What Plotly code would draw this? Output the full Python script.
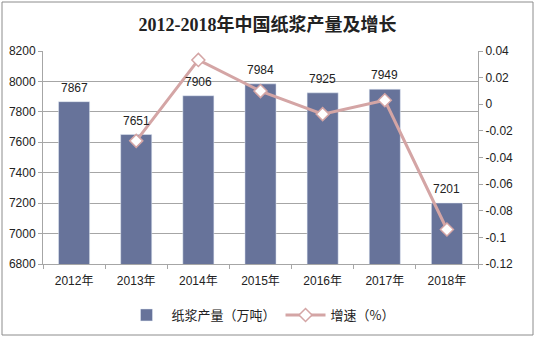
import plotly.graph_objects as go

years = ["2012年", "2013年", "2014年", "2015年", "2016年", "2017年", "2018年"]
output = [7867, 7651, 7906, 7984, 7925, 7949, 7201]
growth = [None, -0.0275, 0.0333, 0.0099, -0.0074, 0.0030, -0.0941]
left_ticks = [6800, 7000, 7200, 7400, 7600, 7800, 8000, 8200]
right_ticks = [-0.12, -0.1, -0.08, -0.06, -0.04, -0.02, 0, 0.02, 0.04]
right_labels = ["-0.12", "-0.1", "-0.08", "-0.06", "-0.04", "-0.02", "0", "0.02", "0.04"]

W, H = 535, 337
L, R, T, B = 43, 57, 51, 73
pw, ph = W - L - R, H - T - B

fig = go.Figure()
fig.add_trace(go.Bar(
    x=years, y=output, name="纸浆产量（万吨）",
    marker=dict(color="#67739A"), width=0.5,
))
fig.add_trace(go.Scatter(
    x=years, y=growth, name="增速（%）", yaxis="y2", mode="lines+markers",
    line=dict(color="#D4A5A5", width=3),
    marker=dict(symbol="diamond", size=10, color="white", line=dict(color="#D4A5A5", width=1.5)),
    cliponaxis=False,
))

for yr, v in zip(years, output):
    fig.add_annotation(x=yr, y=v, xref="x", yref="y", text=str(v), showarrow=False,
                       yanchor="middle", yshift=14,
                       font=dict(family="Liberation Sans, Arial", size=12, color="#222222"))

fig.update_layout(
    width=W, height=H,
    margin=dict(l=L, r=R, t=T, b=B, autoexpand=False),
    paper_bgcolor="white", plot_bgcolor="white",
    title=dict(text="<b>2012-2018年中国纸浆产量及增长</b>", x=0.5, xanchor="center",
               y=1 - 25 / H, yanchor="middle",
               font=dict(family="Liberation Serif, Noto Sans CJK SC", size=18, color="#222222")),
    font=dict(family="Liberation Sans, Noto Sans CJK SC", size=12, color="#222222"),
    bargap=0.5,
    showlegend=True,
    legend=dict(orientation="h", x=0.5, xanchor="center", y=-(315 - T - ph) / ph, yanchor="middle",
                font=dict(family="Noto Sans CJK SC", size=13, color="#222222"),
                itemwidth=40, traceorder="normal"),
    xaxis=dict(showline=True, linecolor="#A6A6A6", ticks="outside", tickcolor="#A6A6A6", ticklen=4,
               tickson="boundaries", showgrid=False, ticklabelstandoff=6, automargin=False,
               tickfont=dict(family="Liberation Sans, Noto Sans CJK SC", size=12)),
    yaxis=dict(range=[6800, 8200], tickvals=left_ticks, ticktext=[str(v) for v in left_ticks],
               showgrid=True, gridcolor="#A6A6A6", gridwidth=1, showline=True, linecolor="#A6A6A6",
               ticks="outside", tickcolor="#A6A6A6", ticklen=4, zeroline=False, automargin=False,
               tickfont=dict(size=12)),
    yaxis2=dict(range=[-0.12, 0.04], overlaying="y", side="right", tickvals=right_ticks,
                ticktext=right_labels, showgrid=False, showline=True, linecolor="#A6A6A6",
                ticks="outside", tickcolor="#A6A6A6", ticklen=4, zeroline=False, automargin=False,
                tickfont=dict(size=12)),
)

fig.add_shape(type="rect", xref="paper", yref="paper",
              x0=(2 - L) / pw, x1=(W - 2 - L) / pw,
              y0=-(H - 2 - T - ph) / ph, y1=1 + (T - 2) / ph,
              line=dict(color="#8C8C8C", width=1), fillcolor="rgba(0,0,0,0)", layer="below")

fig.write_html("out.html")
